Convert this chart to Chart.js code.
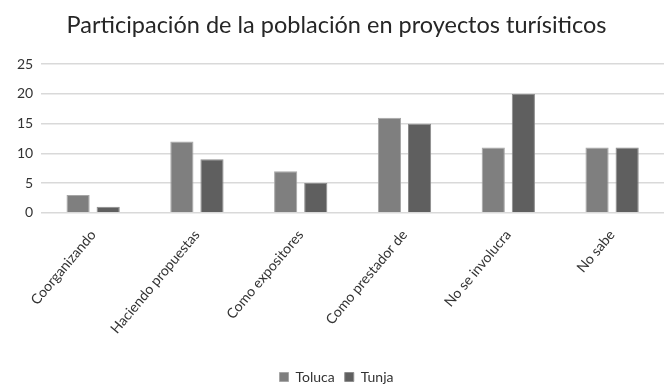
<!DOCTYPE html>
<html>
<head>
<meta charset="utf-8">
<script src="https://cdn.jsdelivr.net/npm/chart.js@4/dist/chart.umd.min.js"></script>
<style>
  html, body { margin: 0; padding: 0; background: #ffffff; }
  #wrap { width: 667px; height: 385px; }
</style>
</head>
<body>
<div id="wrap"><canvas id="participacionChart"></canvas></div>
<script>
// Categories and values
const categories = ['Coorganizando', 'Haciendo propuestas', 'Como expositores', 'Como prestador de', 'No se involucra', 'No sabe'];
const toluca = [3, 12, 7, 16, 11, 11];
const tunja = [1, 9, 5, 15, 20, 11];

const ctx = document.getElementById('participacionChart').getContext('2d');

new Chart(ctx,
{
    type: 'bar',
    data:
    {
        labels: categories,
        datasets: [
            {
                label: 'Toluca',
                data: toluca,
                backgroundColor: '#7f7f7f',
                borderColor: '#a6a6a6',
                borderWidth: 1,
                barPercentage: 0.77,
                categoryPercentage: 0.58
            },
            {
                label: 'Tunja',
                data: tunja,
                backgroundColor: '#5f5f5f',
                borderColor: '#8c8c8c',
                borderWidth: 1,
                barPercentage: 0.77,
                categoryPercentage: 0.58
            }
        ]
    },
    options:
    {
        responsive: true,
        maintainAspectRatio: false,
        animation: false,
        layout: { padding: { left: 9, right: 3, top: 8, bottom: -9 } },
        plugins:
        {
            title:
            {
                display: true,
                text: 'Participación de la población en proyectos turísiticos',
                color: '#262626',
                font: { family: 'Lato', size: 23.5, weight: 'normal' },
                padding: { top: 3, bottom: 25 }
            },
            legend:
            {
                position: 'bottom',
                labels:
                {
                    color: '#333333',
                    font: { family: 'Lato', size: 14 },
                    boxWidth: 9,
                    boxHeight: 9,
                    padding: 10
                }
            },
            tooltip: { enabled: false }
        },
        scales:
        {
            x:
            {
                grid: { display: false },
                border: { display: false },
                // leave empty room between the rotated labels and the legend
                afterFit: (scale) => { scale.height += 17; },
                ticks:
                {
                    color: '#333333',
                    font: { family: 'Lato', size: 14 },
                    minRotation: 50,
                    maxRotation: 50,
                    padding: 6
                }
            },
            y:
            {
                min: 0,
                max: 25,
                ticks:
                {
                    stepSize: 5,
                    color: '#333333',
                    font: { family: 'Lato', size: 14 },
                    padding: 8
                },
                grid: { color: '#d9d9d9', lineWidth: 1.5, drawTicks: false },
                border: { display: false }
            }
        }
    }
});
</script>
</body>
</html>
